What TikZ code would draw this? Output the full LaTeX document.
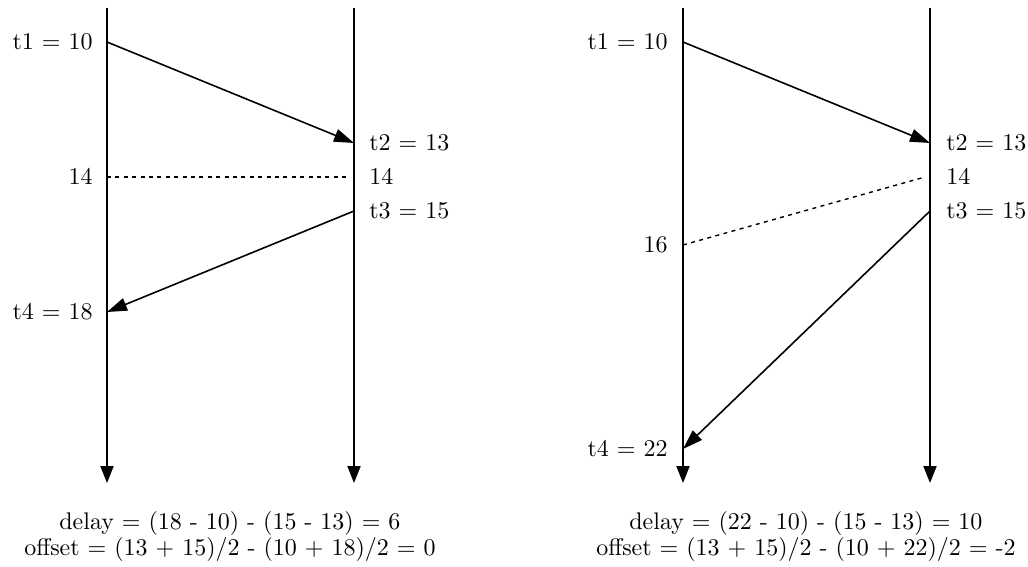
\documentclass[tikz,border=0pt]{standalone}
\usetikzlibrary{arrows.meta}
\font\dfont=cmr10 at 12pt
\begin{document}
\begin{tikzpicture}[x=0.5pt,y=-0.5pt,
  timeline/.style={line width=1pt,-{Triangle[length=8.5pt,width=6.5pt]}},
  msg/.style={line width=0.8pt,-{Triangle[length=10pt,width=6.5pt]}},
  sync/.style={line width=0.7pt,dash pattern=on 2pt off 2.2pt},
  lbl/.style={inner sep=0pt,font=\dfont},
  res/.style={inner sep=0pt,align=center,font=\dfont}]
\useasboundingbox (0,0) rectangle (1028,567);
% left diagram
\coordinate (Atop) at (107,8);   \coordinate (Abot) at (107,483);
\coordinate (Btop) at (354,8);   \coordinate (Bbot) at (354,483);
\draw[timeline] (Atop) -- (Abot);
\draw[timeline] (Btop) -- (Bbot);
\coordinate (a1) at (107,42);  \coordinate (b2) at (354,143);
\coordinate (b3) at (354,211); \coordinate (a4) at (107,312);
\coordinate (as) at (107,177); \coordinate (bs) at (347,177);
\draw[msg] (a1) -- (b2);
\draw[msg] (b3) -- (a4);
\draw[sync] (as) -- (bs);
\node[lbl,anchor=east] (la1) at (93,42) {t1 = 10};
\node[lbl,anchor=east] (las) at (93,177) {14};
\node[lbl,anchor=east] (la4) at (93,312) {t4 = 18};
\node[lbl,anchor=west] (lb2) at (369,143) {t2 = 13};
\node[lbl,anchor=west] (lbs) at (369,177) {14};
\node[lbl,anchor=west] (lb3) at (369,211) {t3 = 15};
\node[res] (resA) at (230,536) {delay = (18 - 10) - (15 - 13) = 6\\[1pt]offset = (13 + 15)/2 - (10 + 18)/2 = 0};
% right diagram
\coordinate (Ctop) at (683,8);   \coordinate (Cbot) at (683,483);
\coordinate (Dtop) at (930,8);   \coordinate (Dbot) at (930,483);
\draw[timeline] (Ctop) -- (Cbot);
\draw[timeline] (Dtop) -- (Dbot);
\coordinate (c1) at (683,42);  \coordinate (d2) at (930,143);
\coordinate (d3) at (930,211); \coordinate (c4) at (683,449);
\coordinate (cs) at (683,245); \coordinate (ds) at (925,177);
\draw[msg] (c1) -- (d2);
\draw[msg] (d3) -- (c4);
\draw[sync] (cs) -- (ds);
\node[lbl,anchor=east] (lc1) at (668,42) {t1 = 10};
\node[lbl,anchor=east] (lcs) at (668,245) {16};
\node[lbl,anchor=east] (lc4) at (668,449) {t4 = 22};
\node[lbl,anchor=west] (ld2) at (946,143) {t2 = 13};
\node[lbl,anchor=west] (lds) at (946,177) {14};
\node[lbl,anchor=west] (ld3) at (946,211) {t3 = 15};
\node[res] (resB) at (806,536) {delay = (22 - 10) - (15 - 13) = 10\\[1pt]offset = (13 + 15)/2 - (10 + 22)/2 = -2};
\end{tikzpicture}
\end{document}
